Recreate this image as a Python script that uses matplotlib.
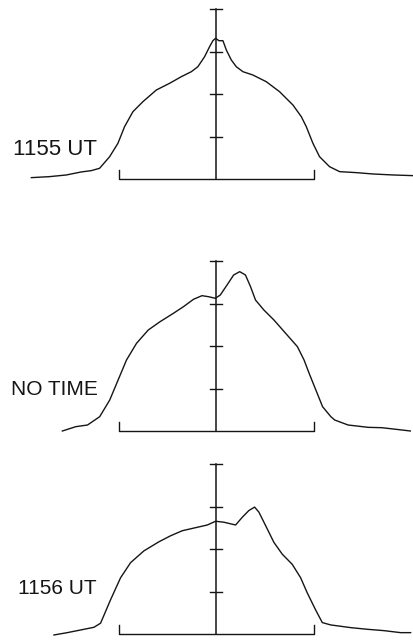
import matplotlib.pyplot as plt

# Scan profiles, x in units of the bracket half-width (bracket = -1..1),
# y in units of the tick spacing on the central scale.
labels = ["1155 UT", "NO TIME", "1156 UT"]

x_1155 = [-1.897, -1.709, -1.538, -1.385, -1.282, -1.197, -1.094, -1.009,
          -0.941, -0.855, -0.753, -0.615, -0.479, -0.359, -0.256, -0.189,
          -0.120, -0.069, -0.035, -0.007, 0.027, 0.068, 0.103, 0.154,
          0.205, 0.273, 0.375, 0.513, 0.649, 0.786, 0.872, 0.923, 0.991,
          1.059, 1.162, 1.265, 1.436, 1.607, 1.812, 2.017]
y_1155 = [0.039, 0.063, 0.102, 0.173, 0.204, 0.259, 0.532, 0.847,
          1.238, 1.591, 1.826, 2.101, 2.259, 2.414, 2.532, 2.649,
          2.885, 3.120, 3.261, 3.318, 3.261, 3.261, 3.042, 2.807,
          2.649, 2.532, 2.454, 2.296, 2.061, 1.748, 1.473, 1.238, 0.847,
          0.532, 0.296, 0.180, 0.157, 0.125, 0.102, 0.086]

x_notime = [-1.579, -1.441, -1.321, -1.196, -1.093, -1.007, -0.921, -0.818,
            -0.698, -0.577, -0.440, -0.337, -0.234, -0.147, -0.079, -0.010,
            0.041, 0.110, 0.178, 0.240, 0.299, 0.351, 0.402, 0.488, 0.591,
            0.711, 0.832, 0.900, 0.952, 1.021, 1.090, 1.175, 1.214, 1.352,
            1.559, 1.697, 1.903, 1.990]
y_notime = [0.000, 0.102, 0.141, 0.337, 0.729, 1.200, 1.671, 2.064,
            2.376, 2.572, 2.769, 2.925, 3.099, 3.184, 3.160, 3.122,
            3.200, 3.435, 3.671, 3.749, 3.671, 3.396, 3.082, 2.847, 2.612,
            2.299, 1.984, 1.671, 1.358, 0.965, 0.572, 0.337, 0.259, 0.141,
            0.086, 0.078, 0.024, 0.000]

x_1156 = [-1.665, -1.528, -1.391, -1.255, -1.187, -1.084, -0.982, -0.879,
          -0.743, -0.589, -0.469, -0.349, -0.195, -0.092, -0.007, 0.078,
          0.198, 0.267, 0.334, 0.393, 0.437, 0.506, 0.591, 0.677, 0.779,
          0.865, 0.933, 1.018, 1.087, 1.172, 1.378, 1.549, 1.720, 1.891,
          1.993]
y_1156 = [-0.016, 0.039, 0.102, 0.165, 0.261, 0.815, 1.330, 1.686,
          1.962, 2.176, 2.318, 2.437, 2.518, 2.572, 2.660, 2.637,
          2.572, 2.755, 2.912, 2.993, 2.874, 2.556, 2.162, 1.884, 1.646,
          1.330, 0.974, 0.577, 0.276, 0.221, 0.157, 0.118, 0.086, 0.039,
          0.039]

tick_levels = [1, 2, 3]
scale_top = 4
label_pos = [(-2.085, 0.69), (-2.11, 0.98), (-2.03, 1.08)]
label_sizes = [16, 15, 15]

profiles = [(x_1155, y_1155), (x_notime, y_notime), (x_1156, y_1156)]

W, H = 414, 642
X_UNIT = 97.5      # px per bracket half-width
Y_UNIT = 42.5      # px per tick step
X_CENTER = 216.3
baselines = [179.3, 431.0, 634.3]   # px from top
Y_LO, Y_HI = -0.2, 4.3
ink = "#151515"

fig = plt.figure(figsize=(W / 100, H / 100), dpi=100)
fig.patch.set_facecolor("white")

for (xs, ys), lab, (lx, ly), fs, base in zip(profiles, labels, label_pos,
                                             label_sizes, baselines):
    bottom = (H - (base - Y_LO * Y_UNIT)) / H
    height = (Y_HI - Y_LO) * Y_UNIT / H
    ax = fig.add_axes([0, bottom, 1, height])
    ax.set_xlim(-X_CENTER / X_UNIT, (W - X_CENTER) / X_UNIT)
    ax.set_ylim(Y_LO, Y_HI)
    ax.axis("off")

    # central scale with ticks
    ax.plot([0, 0], [0, scale_top], color=ink, lw=1.1, clip_on=False)
    for t in tick_levels + [scale_top]:
        ax.plot([-0.06, 0.06], [t, t], color=ink, lw=1.0, clip_on=False)

    # bracket
    ax.plot([-1, -1, 1, 1], [0.22, 0, 0, 0.22], color=ink, lw=1.0,
            clip_on=False)

    ax.plot(xs, ys, color=ink, lw=1.0, clip_on=False, solid_joinstyle="round")

    ax.text(lx, ly, lab, fontsize=fs, family="Liberation Sans",
            color=ink, ha="left", va="center")

fig.savefig("out.png", dpi=100)
